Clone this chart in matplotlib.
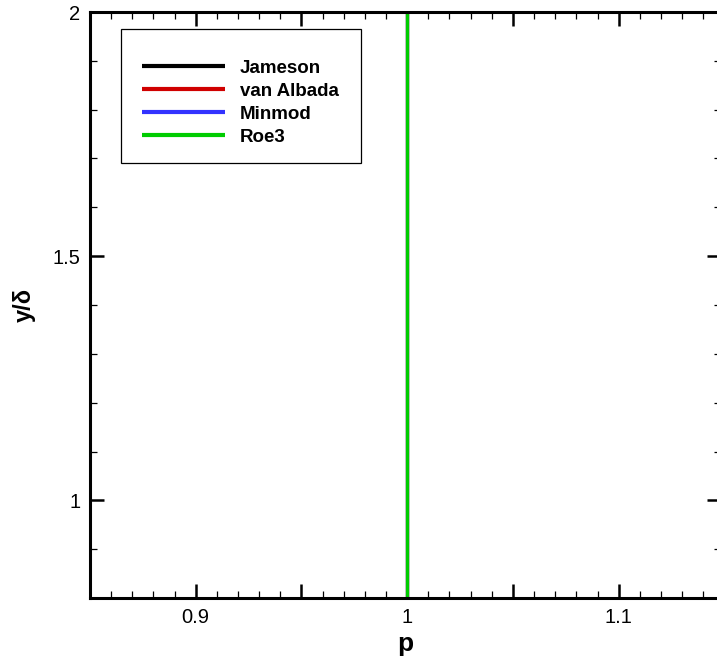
import matplotlib
matplotlib.use("Agg")
import matplotlib.pyplot as plt
from matplotlib.patches import Rectangle
from matplotlib.ticker import MultipleLocator, FixedLocator, FixedFormatter

# Data: all four schemes give p = 1 along y/delta
y_delta = [0.0, 0.5, 1.0, 1.5, 2.0, 2.5, 3.0]
p_jameson = [1.0, 1.0, 1.0, 1.0, 1.0, 1.0, 1.0]
p_vanalbada = [1.0, 1.0, 1.0, 1.0, 1.0, 1.0, 1.0]
p_minmod = [1.0, 1.0, 1.0, 1.0, 1.0, 1.0, 1.0]
p_roe3 = [1.0, 1.0, 1.0, 1.0, 1.0, 1.0, 1.0]

series_names = ["Jameson", "van Albada", "Minmod", "Roe3"]
series_colors = ["#000000", "#d00000", "#3333ff", "#00cc00"]

x_major = [0.9, 0.95, 1.0, 1.05, 1.1, 1.15]
x_labels = ["0.9", "", "1", "", "1.1", ""]
y_major = [1.0, 1.5, 2.0]
y_labels = ["1", "1.5", "2"]

plt.rcParams['font.family'] = ['Liberation Sans', 'DejaVu Sans']

fig = plt.figure(figsize=(7.17, 6.57), dpi=100)
ax = fig.add_axes([90/717, 59/657, 631/717, 586/657])

for pv, name, col in zip([p_jameson, p_vanalbada, p_minmod, p_roe3], series_names, series_colors):
    ax.plot(pv, y_delta, color=col, lw=2.3, label=name, solid_capstyle='butt')

ax.set_xlim(0.85, 1.1484)
ax.set_ylim(0.8, 2.0)

ax.xaxis.set_major_locator(FixedLocator(x_major))
ax.xaxis.set_major_formatter(FixedFormatter(x_labels))
ax.xaxis.set_minor_locator(MultipleLocator(0.01))
ax.yaxis.set_major_locator(FixedLocator(y_major))
ax.yaxis.set_major_formatter(FixedFormatter(y_labels))
ax.yaxis.set_minor_locator(MultipleLocator(0.1))

ax.tick_params(which='both', direction='in', top=True, right=True, labelsize=14.5, pad=7)
ax.tick_params(which='major', length=10, width=1.8)
ax.tick_params(which='minor', length=5, width=0.9)

for s in ax.spines.values():
    s.set_linewidth(2.2)

ax.set_xlabel("p", fontsize=19, fontweight='bold', labelpad=4)
ax.set_ylabel("y/δ", fontsize=17, fontweight='bold', labelpad=12)

# legend frame box
ax.add_patch(Rectangle((31/631, (598-163)/586), 240/631, 134/586,
                       transform=ax.transAxes, facecolor='white',
                       edgecolor='black', linewidth=0.9, zorder=4))

leg = ax.legend(loc='upper left', bbox_to_anchor=((142-90)/631, (598-59.5)/586),
                prop={'weight': 'bold', 'size': 13.5}, handlelength=4.4,
                handletextpad=0.8, labelspacing=0.32, borderpad=0,
                borderaxespad=0, frameon=False)
leg.set_zorder(5)
for line in leg.get_lines():
    line.set_linewidth(3)

fig.savefig("out.png", dpi=100)
